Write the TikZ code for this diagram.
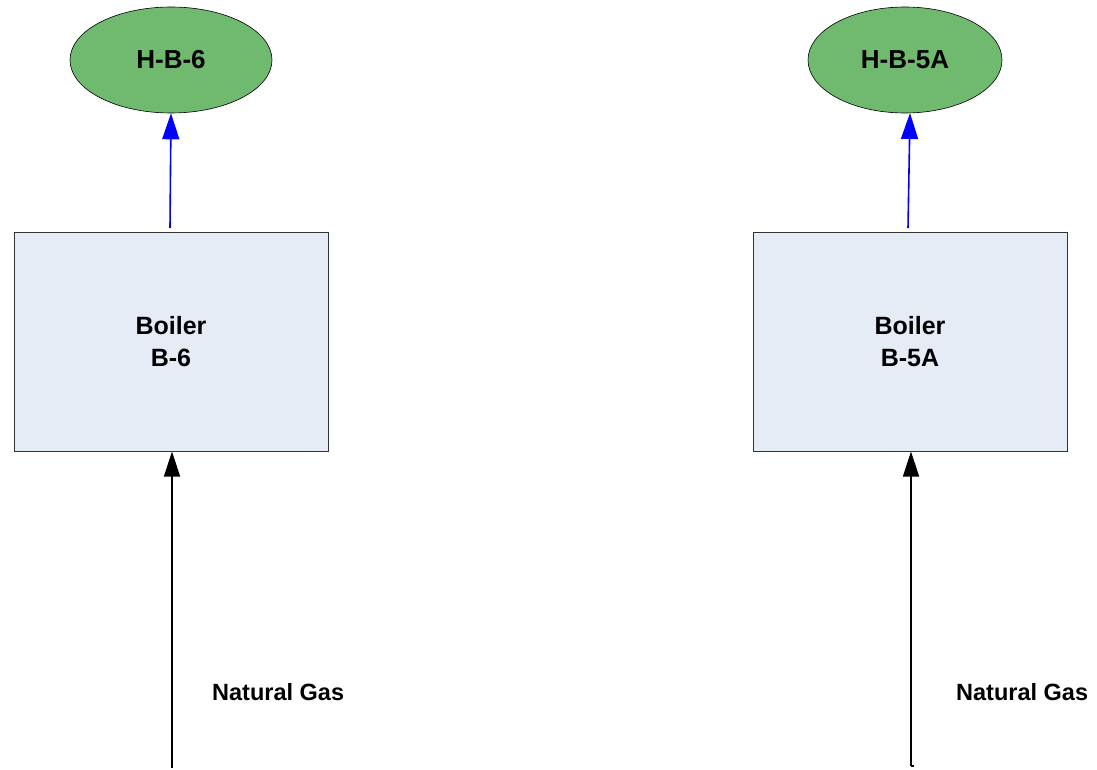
\documentclass[tikz,border=0pt]{standalone}
\usepackage{fontspec}
\setmainfont{Liberation Sans}
\usetikzlibrary{arrows.meta,shapes.geometric}
\definecolor{boxfill}{RGB}{230,236,246}
\definecolor{ellfill}{RGB}{112,186,112}
\definecolor{flowblue}{RGB}{0,0,255}
\tikzset{
  boiler/.style={draw=black!80, line width=1pt, fill=boxfill, minimum width=314pt, minimum height=219pt, inner sep=0pt, align=center, font=\fontsize{25}{32}\selectfont\bfseries},
  stack/.style={ellipse, draw=black, line width=0.6pt, fill=ellfill, inner sep=0pt, font=\fontsize{26}{30}\selectfont\bfseries},
  lbl/.style={anchor=west, inner sep=0pt, font=\fontsize{23.5}{28}\selectfont\bfseries},
  flowout/.style={draw=flowblue, line width=1.6pt, -{Triangle[width=17pt,length=26pt]}},
  flowin/.style={draw=black, line width=1.5pt, -{Triangle[width=16pt,length=25pt]}}
}
\begin{document}
\begin{tikzpicture}[x=1pt,y=-1pt]
\useasboundingbox (0,0) rectangle (1097,770);
% left
\node[stack, minimum width=202pt, minimum height=106pt] (e1) at (171,60) {H-B-6};
\node[boiler] (b1) at (171,341.5) {Boiler\\B-6};
\coordinate (g1) at (172,768);
\coordinate (s1) at (170,228);
\node[lbl] (n1) at (212,692) {Natural Gas};
\draw[flowout] (s1) -- (e1.south);
\draw[flowin] (g1) -- (g1 |- b1.south);
% right
\node[stack, minimum width=194pt, minimum height=106pt] (e2) at (905,60) {H-B-5A};
\node[boiler] (b2) at (910,341.5) {Boiler\\B-5A};
\coordinate (g2) at (911,766);
\coordinate (s2) at (908,228);
\node[lbl] (n2) at (956,692) {Natural Gas};
\draw[flowout] (s2) -- (910,113);
\draw[flowin] (g2) -- (g2 |- b2.south);
\draw[line width=1.5pt] (g2) -- ++(3,0);
\end{tikzpicture}
\end{document}
